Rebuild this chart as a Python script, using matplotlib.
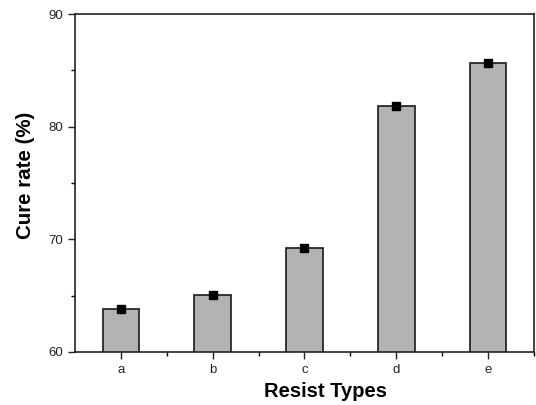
import matplotlib
matplotlib.use('Agg')
import matplotlib.pyplot as plt
import numpy as np

plt.rcParams['font.family'] = ['Liberation Sans', 'DejaVu Sans']

# data
resist_types = ['a', 'b', 'c', 'd', 'e']
cure_rate = [63.8, 65.05, 69.2, 81.8, 85.7]

fig = plt.figure(figsize=(5.36, 4.05), dpi=100)
ax = fig.add_axes([0.14, 0.131, 0.856, 0.834])

x = np.arange(len(resist_types))
ax.bar(x, cure_rate, width=0.4, color='#b3b3b3', edgecolor='#1a1a1a', linewidth=1.2)
ax.plot(x, cure_rate, linestyle='none', marker='s', markersize=5.5, color='black')

ax.set_ylim(60, 90)
ax.set_xlim(-0.5, 4.5)
ax.set_yticks([60, 70, 80, 90])
ax.set_yticks([65, 75, 85], minor=True)
ax.set_xticks(x)
ax.set_xticklabels(resist_types)
ax.set_xticks(x + 0.5, minor=True)

ax.tick_params(axis='both', which='major', direction='out', length=5, width=1, labelsize=9.5, colors='#222222')
ax.tick_params(axis='both', which='minor', direction='out', length=3, width=1)
for s in ax.spines.values():
    s.set_linewidth(1.2)
    s.set_color('#222222')

ax.set_xlabel('Resist Types', fontsize=14.5, fontweight='bold')
ax.set_ylabel('Cure rate (%)', fontsize=14.8, fontweight='bold')
ax.xaxis.set_label_coords(0.545, -0.09)
ax.yaxis.set_label_coords(-0.087, 0.524)

fig.savefig('out.png', dpi=100)
